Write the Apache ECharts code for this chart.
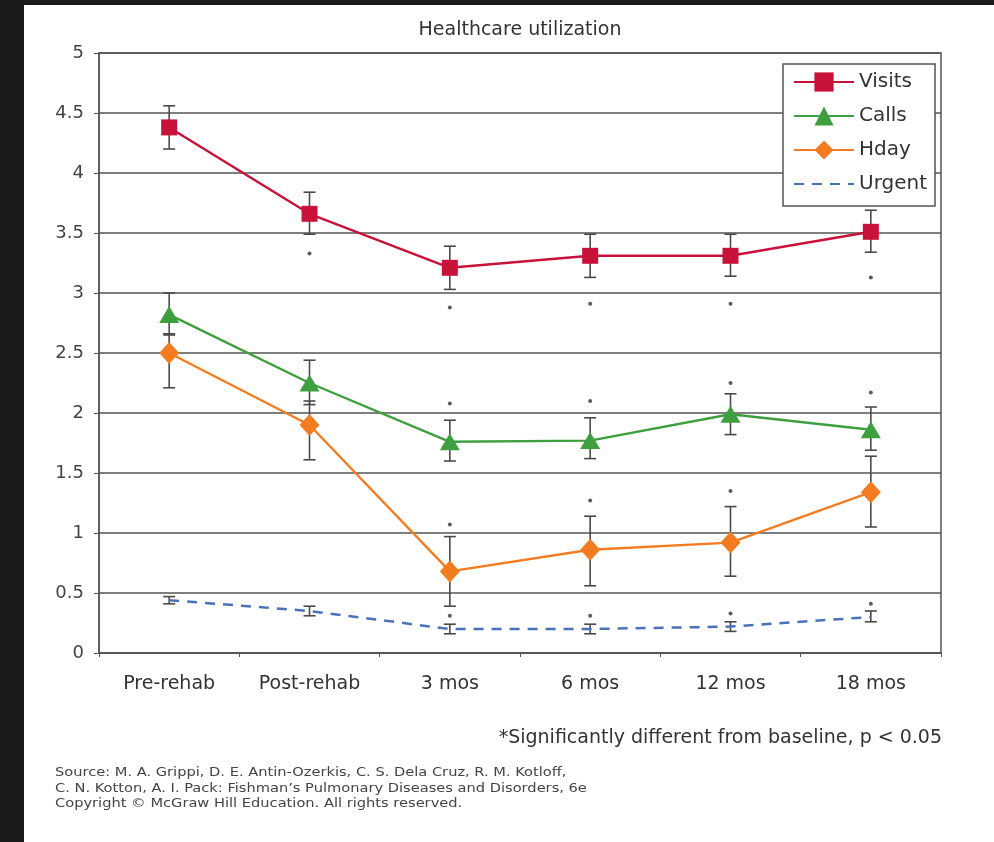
<!DOCTYPE html>
<html><head><meta charset="utf-8">
<script src="https://cdn.jsdelivr.net/npm/echarts@6/dist/echarts.min.js"></script>
<style>html,body{margin:0;padding:0;background:#1b1b1b;}#c{width:994px;height:842px;}</style>
</head><body><div id="c"></div>
<script>
const categories = ['Pre-rehab','Post-rehab','3 mos','6 mos','12 mos','18 mos'];
const yTicks = [0,0.5,1,1.5,2,2.5,3,3.5,4,4.5,5];
const visits = [4.38,3.66,3.21,3.31,3.31,3.51];
const visitsLow = [4.20,3.49,3.03,3.13,3.14,3.34];
const visitsHigh = [4.56,3.84,3.39,3.49,3.49,3.69];
const calls = [2.82,2.25,1.76,1.77,1.99,1.86];
const callsLow = [2.65,2.07,1.60,1.62,1.82,1.69];
const callsHigh = [3.00,2.44,1.94,1.96,2.16,2.05];
const hday = [2.50,1.90,0.68,0.86,0.92,1.34];
const hdayLow = [2.21,1.61,0.39,0.56,0.64,1.05];
const hdayHigh = [2.66,2.10,0.97,1.14,1.22,1.64];
const urgent = [0.44,0.35,0.20,0.20,0.22,0.30];
const urgentLow = [0.41,0.31,0.16,0.16,0.18,0.26];
const urgentHigh = [0.47,0.39,0.24,0.24,0.26,0.35];
const sigVisits = [null,3.33,2.88,2.91,2.91,3.13];
const sigCalls = [null,null,2.08,2.10,2.25,2.17];
const sigHday = [null,null,1.07,1.27,1.35,null];
const sigUrgent = [null,null,0.31,0.31,0.33,0.41];
const titleText = 'Healthcare utilization';
const footnoteText = '*Significantly different from baseline, p < 0.05';
const sourceText = 'Source: M. A. Grippi, D. E. Antin-Ozerkis, C. S. Dela Cruz, R. M. Kotloff,\nC. N. Kotton, A. I. Pack: Fishman\u2019s Pulmonary Diseases and Disorders, 6e\nCopyright \u00A9 McGraw Hill Education. All rights reserved.';

const FONT = '"DejaVu Sans", sans-serif';
const chart = echarts.init(document.getElementById('c'));
function errData(lo, hi){ return lo.map((v,i)=>[i,v,hi[i]]); }
function errSeries(lo, hi){
  return {
    type:'custom', silent:true, z:2, data: errData(lo,hi),
    renderItem:function(params, api){
      const x = api.value(0);
      const p1 = api.coord([x, api.value(1)]);
      const p2 = api.coord([x, api.value(2)]);
      const w = 6;
      const st = {stroke:'#4a4a4a', lineWidth:1.6};
      return {type:'group', children:[
        {type:'line', shape:{x1:p1[0],y1:p1[1],x2:p2[0],y2:p2[1]}, style:st},
        {type:'line', shape:{x1:p1[0]-w,y1:p1[1],x2:p1[0]+w,y2:p1[1]}, style:st},
        {type:'line', shape:{x1:p2[0]-w,y1:p2[1],x2:p2[0]+w,y2:p2[1]}, style:st}
      ]};
    }
  };
}
function sigSeries(arr){
  return {type:'scatter', silent:true, z:3, symbol:'circle', symbolSize:4,
    itemStyle:{color:'#333'}, data: arr.map((v,i)=> v==null? null : [i,v]).filter(d=>d)};
}
chart.setOption({
  backgroundColor:'#1b1b1b',
  animation:false,
  graphic:[
    {type:'rect', left:24, top:5, shape:{width:970, height:837}, style:{fill:'#ffffff'}, z:-10},
    {type:'text', x:520, y:21, style:{text:titleText, font:'19px ' + FONT, fill:'#333', align:'center'}},
    {type:'text', x:942, y:729, style:{text:footnoteText, font:'19px ' + FONT, fill:'#333', align:'right'}},
    {type:'text', x:55, y:765, scaleX:1.125, style:{text:sourceText, font:'13px ' + FONT, lineHeight:15.5, fill:'#444'}}
  ],
  grid:{left:99, right:53, top:53, bottom:189, show:true, borderColor:'#555', borderWidth:1.5, backgroundColor:'transparent'},
  legend:{
    left:783, top:64, orient:'vertical', itemWidth:60, itemHeight:24, itemGap:14,
    padding:[8,8,12,10], borderColor:'#555', borderWidth:1.5, backgroundColor:'#fff',
    textStyle:{fontSize:20, color:'#333', fontFamily:FONT},
    data:['Visits','Calls','Hday',{name:'Urgent', itemStyle:{opacity:0}}]
  },
  xAxis:{type:'category', data:categories, boundaryGap:true,
    axisLine:{lineStyle:{color:'#555', width:1.5}},
    axisTick:{show:true, length:4, lineStyle:{color:'#555'}},
    axisLabel:{fontSize:19, color:'#333', margin:22, fontFamily:FONT}},
  yAxis:{type:'value', min:0, max:5, interval:0.5,
    axisLine:{show:true, lineStyle:{color:'#555', width:1.5}},
    axisTick:{show:true, length:5, lineStyle:{color:'#555'}},
    splitLine:{lineStyle:{color:'#555', width:1.6}},
    axisLabel:{fontSize:18, color:'#444', margin:15, fontFamily:FONT,
      formatter:function(v){ return yTicks.indexOf(v)>=0 ? String(v) : ''; }}},
  series:[
    errSeries(visitsLow, visitsHigh),
    errSeries(callsLow, callsHigh),
    errSeries(hdayLow, hdayHigh),
    errSeries(urgentLow, urgentHigh),
    sigSeries(sigVisits), sigSeries(sigCalls), sigSeries(sigHday), sigSeries(sigUrgent),
    {name:'Urgent', type:'line', z:4, data:urgent, symbol:'none', lineStyle:{color:'#4a72b8', width:2.5, type:[10,8]}, itemStyle:{color:'#4a72b8'}},
    {name:'Hday', type:'line', z:5, data:hday, symbol:'diamond', symbolSize:[20,22], lineStyle:{color:'#f47c20', width:2.4}, itemStyle:{color:'#f47c20'}},
    {name:'Calls', type:'line', z:6, data:calls, symbol:'triangle', symbolSize:[20,17], lineStyle:{color:'#3e9f3e', width:2.4}, itemStyle:{color:'#3e9f3e'}},
    {name:'Visits', type:'line', z:7, data:visits, symbol:'rect', symbolSize:16, lineStyle:{color:'#c8123a', width:2.4}, itemStyle:{color:'#c8123a'}}
  ]
});
</script></body></html>
